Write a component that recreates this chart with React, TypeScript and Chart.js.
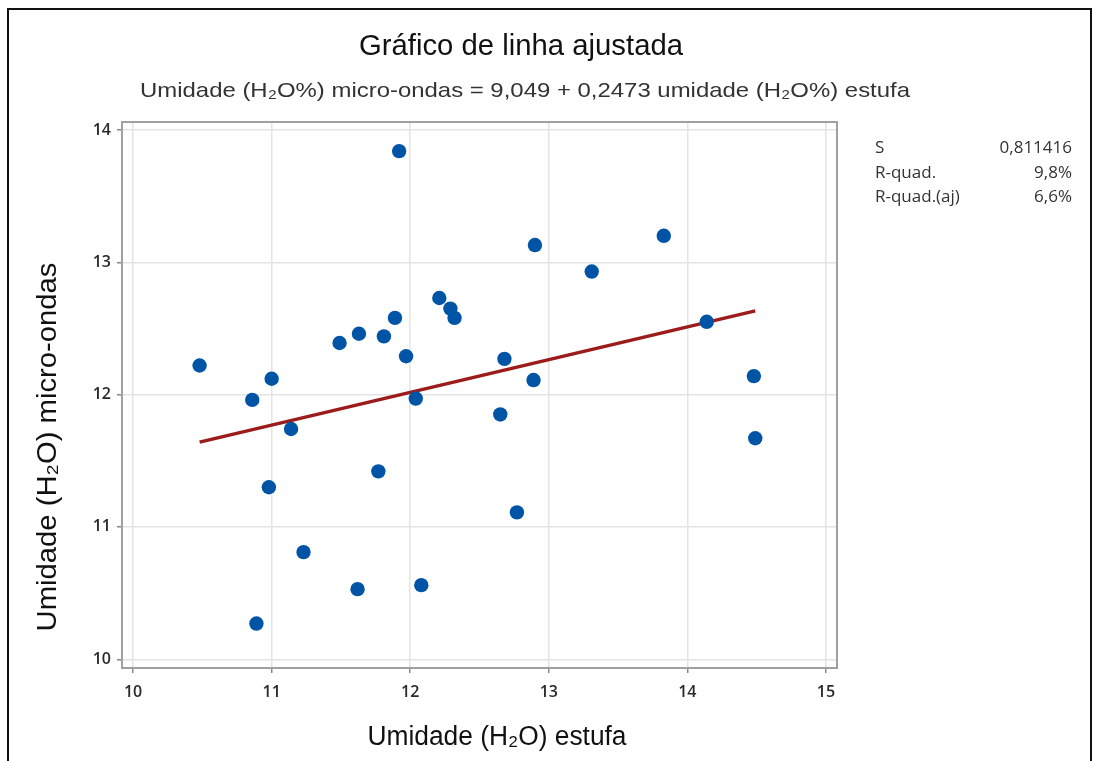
import React, { useEffect, useRef } from "react";
import { Chart, registerables } from "chart.js";

Chart.register(...registerables);

// Data
const xEstufa = [10.48, 10.86, 11.0, 11.14, 10.98, 11.23, 10.89, 11.49, 11.63, 11.81, 11.89, 11.92, 11.97, 11.77, 12.04, 11.62, 12.08, 12.21, 12.29, 12.32, 12.68, 12.65, 12.77, 12.89, 12.9, 13.31, 13.83, 14.14, 14.48, 14.49];
const yMicroondas = [12.22, 11.96, 12.12, 11.74, 11.3, 10.81, 10.27, 12.39, 12.46, 12.44, 12.58, 13.84, 12.29, 11.42, 11.97, 10.53, 10.56, 12.73, 12.65, 12.58, 12.27, 11.85, 11.11, 12.11, 13.13, 12.93, 13.2, 12.55, 12.14, 11.67];
const intercept = 9.049;
const slope = 0.2473;
const xTicks = [10, 11, 12, 13, 14, 15];
const yTicks = [10, 11, 12, 13, 14];
const statLabels = ["S", "R-quad.", "R-quad.(aj)"];
const statValues = ["0,811416", "9,8%", "6,6%"];

const titleText = "Gráfico de linha ajustada";
const subtitleText = "Umidade (H₂O%) micro-ondas = 9,049 + 0,2473 umidade (H₂O%) estufa";
const xTitleText = "Umidade (H₂O) estufa";
const yTitleText = "Umidade (H₂O) micro-ondas";

function fitText(
  ctx: CanvasRenderingContext2D,
  text: string,
  x: number,
  y: number,
  font: string,
  width: number,
  align: CanvasTextAlign,
  color: string,
  rotate = 0
) {
  ctx.save();
  ctx.font = font;
  ctx.fillStyle = color;
  ctx.textBaseline = "alphabetic";
  ctx.textAlign = align;
  const w = ctx.measureText(text).width;
  const s = width / w;
  ctx.translate(x, y);
  if (rotate) ctx.rotate(rotate);
  ctx.scale(s, 1);
  ctx.fillText(text, 0, 0);
  ctx.restore();
}

const decorPlugin = {
  id: "decor",
  beforeDatasetsDraw(chart: any) {
    const { ctx, chartArea } = chart;
    ctx.save();
    ctx.strokeStyle = "#a0a0a0";
    ctx.lineWidth = 2;
    ctx.strokeRect(chartArea.left, chartArea.top, chartArea.right - chartArea.left, chartArea.bottom - chartArea.top);
    ctx.restore();
  },
  afterDraw(chart: any) {
    const { ctx } = chart;
    ctx.save();
    ctx.strokeStyle = "#111";
    ctx.lineWidth = 2;
    ctx.strokeRect(8, 9, 1083, 800);
    ctx.restore();

    fitText(ctx, titleText, 521, 55, '29px "Liberation Sans"', 324, "center", "#111");
    fitText(ctx, subtitleText, 525, 97, '21px "Liberation Sans"', 770, "center", "#333");
    fitText(ctx, xTitleText, 497, 745, '27px "Liberation Sans"', 259, "center", "#111");
    fitText(ctx, yTitleText, 56, 447, '27px "Liberation Sans"', 369, "center", "#111", -Math.PI / 2);

    const baselines = [153, 178, 202];
    statLabels.forEach((t, i) => {
      ctx.save();
      ctx.font = '17px "Open Sans"';
      ctx.fillStyle = "#333";
      ctx.textAlign = "left";
      ctx.textBaseline = "alphabetic";
      ctx.fillText(t, 875, baselines[i]);
      ctx.textAlign = "right";
      ctx.fillText(statValues[i], 1072, baselines[i]);
      ctx.restore();
    });
  },
};

export default function App() {
  const ref = useRef<HTMLCanvasElement>(null);

  useEffect(() => {
    document.body.style.margin = "0";
    const canvas = ref.current!;
    const points = xEstufa.map((x, i) => ({ x, y: yMicroondas[i] }));
    const xMin = Math.min(...xEstufa);
    const xMax = Math.max(...xEstufa);
    const fitLine = [
      { x: xMin, y: intercept + slope * xMin },
      { x: xMax, y: intercept + slope * xMax },
    ];

    const chart = new Chart(canvas, {
      type: "scatter",
      data: {
        datasets: [
          {
            label: "Dados",
            data: points,
            backgroundColor: "#0054a6",
            borderColor: "#0054a6",
            pointRadius: 7.2,
            pointHoverRadius: 7.2,
            borderWidth: 0,
            order: 0,
          },
          {
            type: "line",
            label: "Ajuste",
            data: fitLine,
            borderColor: "#9c1b1b",
            borderWidth: 3.5,
            pointRadius: 0,
            fill: false,
            order: 1,
          } as any,
        ],
      },
      options: {
        animation: false,
        responsive: false,
        devicePixelRatio: 1,
        events: [],
        layout: { padding: { top: 122, right: 257, bottom: 0, left: 0 } },
        plugins: {
          legend: { display: false },
          tooltip: { enabled: false },
          title: { display: false },
        },
        scales: {
          x: {
            type: "linear",
            min: 9.92,
            max: 15.08,
            afterFit: (s: any) => {
              s.height = 93;
            },
            afterBuildTicks: (s: any) => {
              s.ticks = xTicks.map((v) => ({ value: v }));
            },
            ticks: {
              includeBounds: false,
              padding: 10,
              color: "#2a2a2a",
              font: { family: '"Open Sans"', size: 16, weight: "600" },
              callback: (v: any) => String(v),
            },
            grid: { color: "#e4e4e4", lineWidth: 1.5, tickLength: 5, tickColor: "#888", drawTicks: true },
            border: { display: false },
          },
          y: {
            type: "linear",
            min: 9.934,
            max: 14.06,
            afterFit: (s: any) => {
              s.width = 122;
            },
            afterBuildTicks: (s: any) => {
              s.ticks = yTicks.map((v) => ({ value: v }));
            },
            ticks: {
              includeBounds: false,
              padding: 6,
              color: "#2a2a2a",
              font: { family: '"Open Sans"', size: 16, weight: "600" },
              callback: (v: any) => String(v),
            },
            grid: { color: "#e4e4e4", lineWidth: 1.5, tickLength: 5, tickColor: "#888", drawTicks: true },
            border: { display: false },
          },
        },
      },
      plugins: [decorPlugin],
    });
    return () => chart.destroy();
  }, []);

  return (
    <canvas
      ref={ref}
      width={1094}
      height={761}
      style={{ display: "block", width: 1094, height: 761 }}
    />
  );
}
